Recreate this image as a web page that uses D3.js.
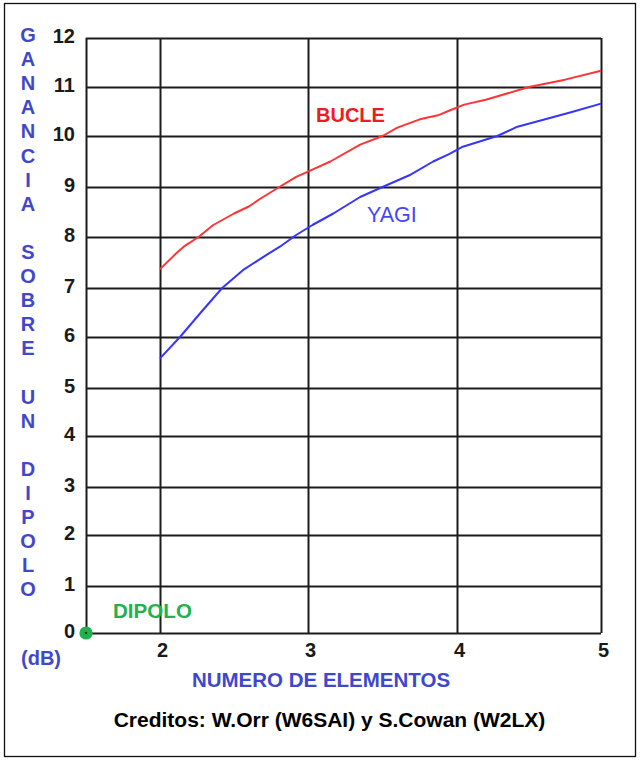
<!DOCTYPE html>
<html>
<head>
<meta charset="utf-8">
<script src="https://cdn.jsdelivr.net/npm/d3@7/dist/d3.min.js"></script>
<style>
  html, body { margin: 0; padding: 0; background: #ffffff; }
  svg { display: block; font-family: "Liberation Sans", Arial, Helvetica, sans-serif; }
</style>
</head>
<body>
<script>
// ---- data ----
const xTickValues = [2, 3, 4, 5];
const xGridValues = [1, 2, 3, 4, 5];
const yTickValues = [0, 1, 2, 3, 4, 5, 6, 7, 8, 9, 10, 11, 12];

const bucleX = [2.00, 2.11, 2.16, 2.26, 2.36, 2.50, 2.60, 2.68, 2.79, 2.92, 3.00, 3.15, 3.35, 3.50, 3.60, 3.75, 3.88, 3.95, 4.05, 4.20, 4.50, 4.75, 5.00];
const bucleY = [7.37, 7.68, 7.81, 8.00, 8.24, 8.47, 8.61, 8.77, 8.97, 9.20, 9.30, 9.50, 9.83, 10.00, 10.17, 10.34, 10.43, 10.52, 10.64, 10.74, 11.00, 11.15, 11.33];

const yagiX = [2.00, 2.135, 2.27, 2.42, 2.56, 2.72, 2.81, 2.92, 3.03, 3.17, 3.35, 3.50, 3.68, 3.84, 3.95, 4.04, 4.28, 4.42, 4.60, 4.81, 5.00];
const yagiY = [5.58, 6.00, 6.48, 7.00, 7.35, 7.65, 7.81, 8.04, 8.24, 8.47, 8.80, 9.00, 9.23, 9.50, 9.65, 9.79, 10.00, 10.19, 10.33, 10.50, 10.66];

const dipoloX = [1];
const dipoloY = [0];

const yAxisTitle = "GANANCIA SOBRE UN DIPOLO";
const yAxisUnit = "(dB)";
const xAxisTitle = "NUMERO DE ELEMENTOS";
const creditsText = "Creditos: W.Orr (W6SAI) y S.Cowan (W2LX)";

(function () {
// ---- drawing ----
const W = 640, H = 760;
const svg = d3.select("body").append("svg").attr("width", W).attr("height", H);

svg.append("rect").attr("x", 4.5).attr("y", 3.5).attr("width", 631).attr("height", 753)
  .attr("fill", "#fff").attr("stroke", "#111").attr("stroke-width", 1.3);

const x = d3.scaleLinear().domain([1, 2, 3, 4, 5]).range([86, 160, 308, 457, 601]);
const y = d3.scaleLinear().domain(yTickValues).range([633, 586, 535, 487, 436, 388, 337, 288, 237, 187, 136, 87, 38]);

const gridColor = "#1c1c1c";
const pLeft = x(1), pRight = x(5), pTop = y(12), pBottom = y(0);

// horizontal gridlines + y tick labels
const gy = svg.append("g").attr("transform", `translate(${pLeft},0)`)
  .call(d3.axisLeft(y).tickValues(yTickValues).tickSize(-(pRight - pLeft)).tickPadding(11).tickFormat(d3.format("d")));
gy.select(".domain").remove();
gy.selectAll(".tick line").attr("stroke", gridColor).attr("stroke-width", 2);
gy.selectAll(".tick text").attr("fill", "#1a1a1a").attr("font-size", 20).attr("font-weight", "bold")
  .attr("font-family", "'Liberation Sans', Arial, sans-serif").attr("dy", "0.24em");

// vertical gridlines
const gx = svg.append("g").attr("transform", `translate(0,${pBottom})`)
  .call(d3.axisBottom(x).tickValues(xGridValues).tickSize(-(pBottom - pTop)).tickFormat(""));
gx.select(".domain").remove();
gx.selectAll(".tick line").attr("stroke", gridColor).attr("stroke-width", 2);

// x tick labels
const gxl = svg.append("g").attr("transform", `translate(0,${pBottom})`)
  .call(d3.axisBottom(x).tickValues(xTickValues).tickSize(0).tickPadding(10).tickFormat(d3.format("d")));
gxl.select(".domain").remove();
gxl.selectAll(".tick text").attr("fill", "#1a1a1a").attr("font-size", 20).attr("font-weight", "bold")
  .attr("font-family", "'Liberation Sans', Arial, sans-serif").attr("x", 2);

// series lines
const lineGen = d3.line().x(d => x(d[0])).y(d => y(d[1]));
svg.append("path").datum(bucleX.map((v, i) => [v, bucleY[i]]))
  .attr("d", lineGen).attr("fill", "none").attr("stroke", "#ff3535").attr("stroke-width", 2)
  .attr("stroke-linejoin", "round");
svg.append("path").datum(yagiX.map((v, i) => [v, yagiY[i]]))
  .attr("d", lineGen).attr("fill", "none").attr("stroke", "#3535ff").attr("stroke-width", 2)
  .attr("stroke-linejoin", "round");

// dipolo point
const dip = svg.append("g").selectAll("g").data(dipoloX.map((v, i) => [v, dipoloY[i]])).join("g");
dip.append("circle").attr("cx", d => x(d[0])).attr("cy", d => y(d[1])).attr("r", 6.6).attr("fill", "#22b14c");
dip.append("circle").attr("cx", d => x(d[0])).attr("cy", d => y(d[1])).attr("r", 1.3).attr("fill", "#0d4a20");

// series labels
svg.append("text").attr("x", 316).attr("y", 122).attr("fill", "#ed1c24").attr("font-size", 20)
  .attr("font-weight", "bold").text("BUCLE");
svg.append("text").attr("x", 367).attr("y", 222).attr("fill", "#4646f5").attr("font-size", 21.5)
  .text("YAGI");
svg.append("text").attr("x", 113).attr("y", 618).attr("fill", "#22b14c").attr("font-size", 20.6)
  .attr("font-weight", "bold").text("DIPOLO");

// vertical y axis title (one letter per line)
const titleColor = "#3f48cc";
const chars = Array.from(yAxisTitle).map((c, i) => ({ c, i })).filter(d => d.c !== " ");
svg.append("g").selectAll("text").data(chars).join("text")
  .attr("x", 28).attr("y", d => 42 + d.i * 24.1)
  .attr("text-anchor", "middle").attr("fill", titleColor)
  .attr("font-size", 20).attr("font-weight", "bold").text(d => d.c);

svg.append("text").attr("x", 41).attr("y", 665).attr("text-anchor", "middle")
  .attr("fill", titleColor).attr("font-size", 20).attr("font-weight", "bold").text(yAxisUnit);

// x axis title
svg.append("text").attr("x", 321).attr("y", 687).attr("text-anchor", "middle")
  .attr("fill", titleColor).attr("font-size", 20.5).attr("font-weight", "bold").text(xAxisTitle);

// credits
svg.append("text").attr("x", 329.5).attr("y", 726.5).attr("text-anchor", "middle")
  .attr("fill", "#000").attr("font-size", 21).attr("font-weight", "bold").text(creditsText);
})();
</script>
</body>
</html>
